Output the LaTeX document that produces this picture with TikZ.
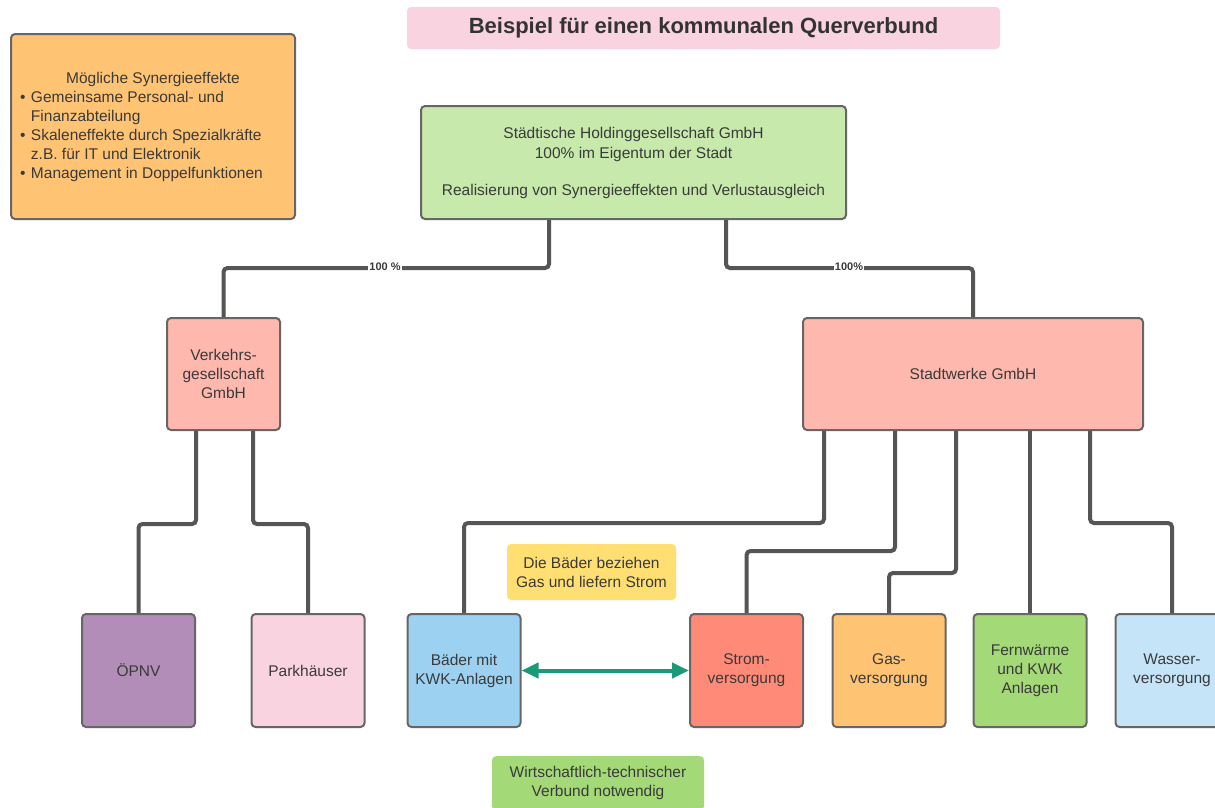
\documentclass[tikz,border=0pt]{standalone}
\usepackage{fontspec}
\setmainfont{Liberation Sans}
\usetikzlibrary{arrows.meta,calc}
\definecolor{txt}{HTML}{3A3A3A}
\definecolor{bord}{HTML}{666666}
\definecolor{lin}{HTML}{555555}
\definecolor{cpink}{HTML}{F9D3E0}
\definecolor{corange}{HTML}{FFC374}
\definecolor{cholding}{HTML}{C7E9AB}
\definecolor{csalmon}{HTML}{FFB8AE}
\definecolor{cpurple}{HTML}{B28DB8}
\definecolor{cblue}{HTML}{9DD1F1}
\definecolor{cred}{HTML}{FF8A78}
\definecolor{cgreen}{HTML}{A3D977}
\definecolor{clblue}{HTML}{C5E4F7}
\definecolor{cyellow}{HTML}{FFDF71}
\definecolor{cteal}{HTML}{1B9A7A}
\newcommand\synitem[1]{\par\hangindent=13pt\hangafter=1\noindent\makebox[13pt][l]{\hspace{2pt}•}#1}
\begin{document}
\begin{tikzpicture}[x=1pt,y=-1pt,
  box/.style={draw=bord,line width=2pt,rounded corners=4pt,inner sep=0pt,align=center,
    text=txt,font=\fontsize{15.5}{19}\selectfont},
  sq/.style={box,minimum width=113pt,minimum height=113pt},
  note/.style={rounded corners=4pt,inner sep=0pt,align=center,text=txt,
    font=\fontsize{15.5}{19}\selectfont},
  conn/.style={draw=lin,line width=4pt,rounded corners=4pt},
  pct/.style={fill=white,inner sep=1pt,text=txt,font=\bfseries\fontsize{11}{12}\selectfont},
  arr/.style={draw=cteal,line width=4pt,{Triangle[length=17pt,width=15pt]}-{Triangle[length=17pt,width=15pt]}}
]
\useasboundingbox (0,0) rectangle (1215,807);
\clip (0,0) rectangle (1215,807);
\fill[white] (0,0) rectangle (1215,807);

% title
\node[note,fill=cpink,minimum width=593pt,minimum height=42pt,text=black!80,
  font=\bfseries\fontsize{22}{26}\selectfont] (title) at (703.5,28) {Beispiel für einen kommunalen Querverbund};

% synergy box
\node[box,fill=corange,minimum width=284pt,minimum height=185pt] (syn) at (153,126.5)
 {\parbox{270pt}{\fontsize{15.5}{19}\selectfont\centering Mögliche Synergieeffekte\par\raggedright
  \synitem{Gemeinsame Personal- und\newline Finanzabteilung}
  \synitem{Skaleneffekte durch Spezialkräfte\newline z.B. für IT und Elektronik}
  \synitem{Management in Doppelfunktionen}\par}};

% holding
\node[box,fill=cholding,minimum width=425pt,minimum height=113pt,font=\fontsize{15.5}{20}\selectfont] (holding) at (633.5,162.5)
 {Städtische Holdinggesellschaft GmbH\\100\% im Eigentum der Stadt\\[17pt]Realisierung von Synergieeffekten und Verlustausgleich};

% second level
\node[box,fill=csalmon,minimum width=113pt,minimum height=112pt] (verk) at (223.5,374) {Verkehrs-\\gesellschaft\\GmbH};
\node[box,fill=csalmon,minimum width=340pt,minimum height=112pt] (stadt) at (973,374) {Stadtwerke GmbH};

% bottom boxes
\node[sq,fill=cpurple] (oepnv) at (138.5,670.5) {ÖPNV};
\node[sq,fill=cpink] (park) at (308,670.5) {Parkhäuser};
\node[sq,fill=cblue] (baeder) at (464,670.5) {Bäder mit\\KWK-Anlagen};
\node[sq,fill=cred] (strom) at (746.5,670.5) {Strom-\\versorgung};
\node[sq,fill=corange] (gas) at (889,670.5) {Gas-\\versorgung};
\node[sq,fill=cgreen] (fern) at (1030,670.5) {Fernwärme\\und KWK\\Anlagen};
\node[sq,fill=clblue] (wasser) at (1172,670.5) {Wasser-\\versorgung};

% notes
\node[note,fill=cyellow,minimum width=169pt,minimum height=56pt] (gasnote) at (591.5,572) {Die Bäder beziehen\\Gas und liefern Strom};
\node[note,fill=cgreen,minimum width=212pt,minimum height=54pt,anchor=north] (verbund) at (598,756)
 {Wirtschaftlich-technischer\\Verbund notwendig};

% connectors
\draw[conn] ([xshift=-84.5pt]holding.south) -- ++(0,48) -| (verk.north);
\draw[conn] ([xshift=92.5pt]holding.south) -- ++(0,48) -| (stadt.north);
\node[pct] (p1) at (385,267) {100 \%};
\node[pct] (p2) at (849,267) {100\%};

\draw[conn] ([xshift=-27.5pt]verk.south) -- ++(0,93) -| (oepnv.north);
\draw[conn] ([xshift=29.5pt]verk.south) -- ++(0,93) -| (park.north);

\draw[conn] ([xshift=-149pt]stadt.south) -- ++(0,92) -| (baeder.north);
\draw[conn] ([xshift=-78pt]stadt.south) -- ++(0,120) -| (strom.north);
\draw[conn] ([xshift=-17pt]stadt.south) -- ++(0,142) -| (gas.north);
\draw[conn] ([xshift=57pt]stadt.south) -- (fern.north);
\draw[conn] ([xshift=117pt]stadt.south) -- ++(0,92) -| (wasser.north);

% arrow
\draw[arr] (baeder.east) -- (strom.west);
\end{tikzpicture}
\end{document}
